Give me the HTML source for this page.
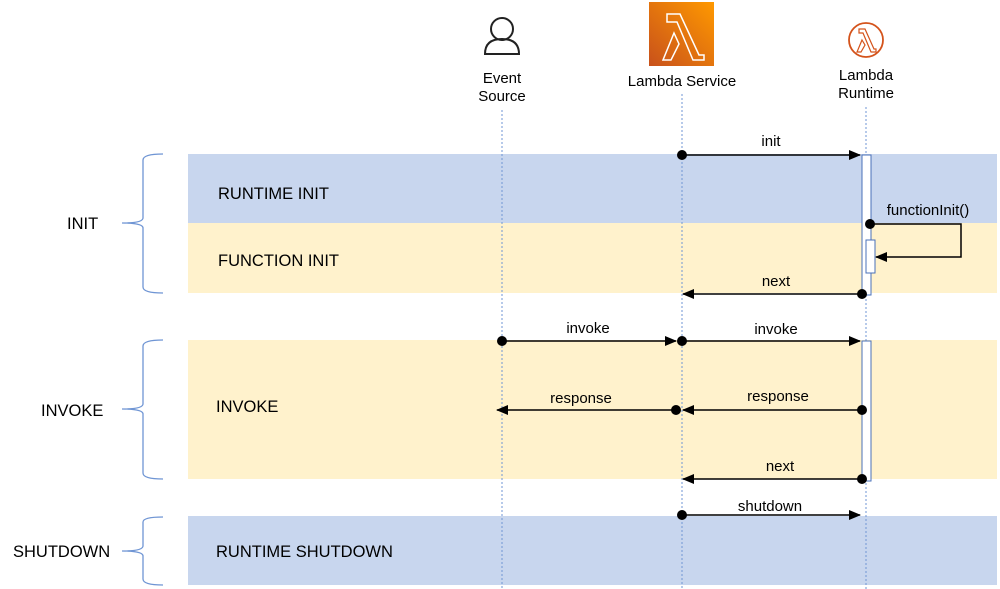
<!DOCTYPE html>
<html><head><meta charset="utf-8"><style>
html,body{margin:0;padding:0;background:#fff;}
svg{display:block;font-family:"Liberation Sans",Arial,sans-serif;}
.lbl{font-size:15px;fill:#000;}
.band{font-size:16.5px;fill:#000;}
</style></head><body>
<svg width="1000" height="589" viewBox="0 0 1000 589" xmlns="http://www.w3.org/2000/svg">
<defs>
<linearGradient id="og" x1="0" y1="1" x2="1" y2="0">
<stop offset="0" stop-color="#c8511b"/><stop offset="1" stop-color="#f90"/>
</linearGradient>
<marker id="ar" markerWidth="12" markerHeight="10" refX="11" refY="5" orient="auto" markerUnits="userSpaceOnUse">
<path d="M0,0 L12,5 L0,10 z" fill="#000"/>
</marker>
</defs>
<rect x="188" y="154" width="809" height="69" fill="#c8d6ee"/>
<rect x="188" y="223" width="809" height="70" fill="#fff2cc"/>
<rect x="188" y="340" width="809" height="139" fill="#fff2cc"/>
<rect x="188" y="516" width="809" height="69" fill="#c8d6ee"/>
<text class="band" x="218" y="199">RUNTIME INIT</text>
<text class="band" x="218" y="266">FUNCTION INIT</text>
<text class="band" x="216" y="412">INVOKE</text>
<text class="band" x="216" y="557">RUNTIME SHUTDOWN</text>
<g fill="none" stroke="#6f95d4" stroke-width="1.3">
<path d="M163,154 Q143,154 143,160 L143,218 Q143,223 122,223 Q143,223 143,228 L143,287 Q143,293 163,293"/>
<path d="M163,340 Q143,340 143,346 L143,404 Q143,409 122,409 Q143,409 143,414 L143,473 Q143,479 163,479"/>
<path d="M163,517 Q143,517 143,522 L143,546 Q143,551 122,551 Q143,551 143,556 L143,579 Q143,585 163,585"/>
</g>
<text class="band" x="67" y="229">INIT</text>
<text class="band" x="41" y="416">INVOKE</text>
<text class="band" x="13" y="557">SHUTDOWN</text>
<g stroke="#6f95d4" stroke-width="1" stroke-dasharray="2,2">
<line x1="502" y1="110" x2="502" y2="589"/>
<line x1="682" y1="94" x2="682" y2="589"/>
<line x1="866" y1="107" x2="866" y2="589"/>
</g>
<g fill="none" stroke="#222" stroke-width="2">
<circle cx="502" cy="29" r="11"/>
<path d="M485,54 Q485,39 502,39 Q519,39 519,54 Z"/>
</g>
<rect x="649" y="2" width="65" height="64" fill="url(#og)"/>
<path d="M667,14 L680,14 L699,55 L704,55 L704,60 L693,60 L677,22 L667,22 Z M674,33 L679,44 L671,60 L663,60 Z" fill="none" stroke="#fff" stroke-width="1.5"/>
<circle cx="866" cy="40" r="17" fill="none" stroke="#d4531b" stroke-width="1.8"/>
<path d="M859,29 L865,29 L874,49 L876,49 L876,52 L871,52 L863,33 L859,33 Z M862,40 L865,45 L861,52 L857,52 Z" fill="none" stroke="#d4531b" stroke-width="1.2"/>
<text class="lbl" x="502" y="83" text-anchor="middle">Event</text>
<text class="lbl" x="502" y="101" text-anchor="middle">Source</text>
<text class="lbl" x="682" y="86" text-anchor="middle">Lambda Service</text>
<text class="lbl" x="866" y="80" text-anchor="middle">Lambda</text>
<text class="lbl" x="866" y="98" text-anchor="middle">Runtime</text>
<rect x="862" y="155" width="9" height="140" fill="#fff" stroke="#4a70b8" stroke-width="1"/>
<rect x="866" y="240" width="9" height="33" fill="#fff" stroke="#4a70b8" stroke-width="1"/>
<rect x="862" y="341" width="9" height="140" fill="#fff" stroke="#4a70b8" stroke-width="1"/>
<g stroke="#000" stroke-width="1.5" fill="none">
<line x1="682" y1="155" x2="860" y2="155" marker-end="url(#ar)"/>
<path d="M870,224 L961,224 L961,257 L876,257" marker-end="url(#ar)"/>
<line x1="862" y1="294" x2="683" y2="294" marker-end="url(#ar)"/>
<line x1="502" y1="341" x2="676" y2="341" marker-end="url(#ar)"/>
<line x1="682" y1="341" x2="860" y2="341" marker-end="url(#ar)"/>
<line x1="676" y1="410" x2="497" y2="410" marker-end="url(#ar)"/>
<line x1="862" y1="410" x2="683" y2="410" marker-end="url(#ar)"/>
<line x1="862" y1="479" x2="683" y2="479" marker-end="url(#ar)"/>
<line x1="682" y1="515" x2="860" y2="515" marker-end="url(#ar)"/>
</g>
<g fill="#000">
<circle cx="682" cy="155" r="5"/><circle cx="870" cy="224" r="5"/>
<circle cx="862" cy="294" r="5"/><circle cx="502" cy="341" r="5"/>
<circle cx="682" cy="341" r="5"/><circle cx="676" cy="410" r="5"/>
<circle cx="862" cy="410" r="5"/><circle cx="862" cy="479" r="5"/>
<circle cx="682" cy="515" r="5"/>
</g>
<text class="lbl" x="771" y="146" text-anchor="middle">init</text>
<text class="lbl" x="928" y="215" text-anchor="middle">functionInit()</text>
<text class="lbl" x="776" y="286" text-anchor="middle">next</text>
<text class="lbl" x="588" y="333" text-anchor="middle">invoke</text>
<text class="lbl" x="776" y="334" text-anchor="middle">invoke</text>
<text class="lbl" x="581" y="403" text-anchor="middle">response</text>
<text class="lbl" x="778" y="401" text-anchor="middle">response</text>
<text class="lbl" x="780" y="471" text-anchor="middle">next</text>
<text class="lbl" x="770" y="511" text-anchor="middle">shutdown</text>
</svg>
</body></html>
